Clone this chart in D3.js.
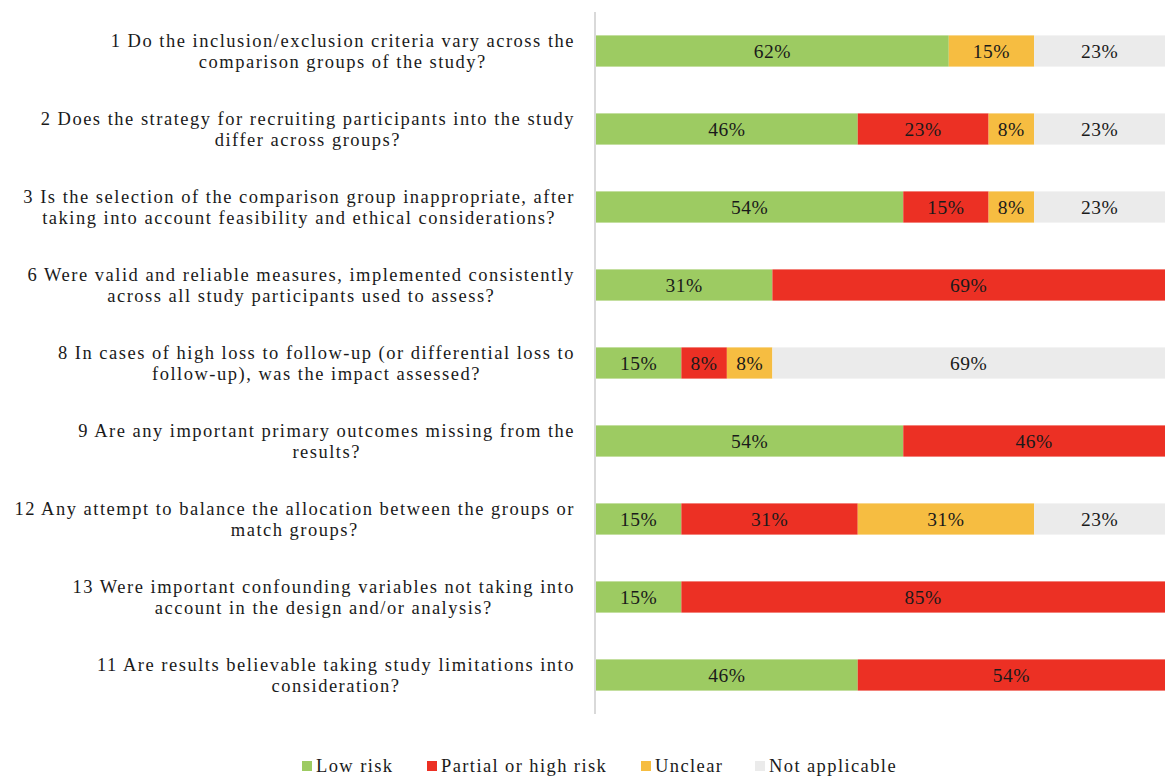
<!DOCTYPE html>
<html>
<head>
<meta charset="utf-8">
<script src="https://cdn.jsdelivr.net/npm/d3@7"></script>
<style>
  body { margin: 0; background: #fff; }
  text { font-family: "Liberation Serif", "Times New Roman", serif; fill: #1a1a1a; }
</style>
</head>
<body>
<svg id="chart" width="1165" height="779"></svg>
<script>
// questions, two lines each as in the figure
var questions = [
  ["1 Do the inclusion/exclusion criteria vary across the", "comparison groups of the study?"],
  ["2 Does the strategy for recruiting participants into the study", "differ across groups?"],
  ["3 Is the selection of the comparison group inappropriate, after", "taking into account feasibility and ethical considerations?"],
  ["6 Were valid and reliable measures, implemented consistently", "across all study participants used to assess?"],
  ["8 In cases of high loss to follow-up (or differential loss to", "follow-up), was the impact assessed?"],
  ["9 Are any important primary outcomes missing from the", "results?"],
  ["12 Any attempt to balance the allocation between the groups or", "match groups?"],
  ["13 Were important confounding variables not taking into", "account in the design and/or analysis?"],
  ["11 Are results believable taking study limitations into", "consideration?"]
];

var seriesNames = ["Low risk", "Partial or high risk", "Unclear", "Not applicable"];
var lowRisk     = [62, 46, 54, 31, 15, 54, 15, 15, 46];
var highRisk    = [ 0, 23, 15, 69,  8, 46, 31, 85, 54];
var unclear     = [15,  8,  8,  0,  8,  0, 31,  0,  0];
var notApplic   = [23, 23, 23,  0, 69,  0, 23,  0,  0];
var colors = ["#9dcb62", "#ec3024", "#f6bd41", "#ebebeb"];

var svg = d3.select('#chart');

// build rows for the stack
var rows = questions.map(function(q, i) {
  return {id: i, label: q, "Low risk": lowRisk[i], "Partial or high risk": highRisk[i],
          "Unclear": unclear[i], "Not applicable": notApplic[i]};
});
var stacked = d3.stack().keys(seriesNames)(rows);

var x = d3.scaleLinear().domain([0, 100]).range([596, 1165]);
var y = d3.scaleBand().domain(d3.range(rows.length)).range([12, 714]).paddingInner(0.6).paddingOuter(0.3);

// bars
var layers = svg.selectAll('g.layer')
  .data(stacked)
  .enter().append('g')
  .attr('class', 'layer')
  .attr('fill', function(d, i) { return colors[i]; });

layers.selectAll('rect')
  .data(function(d) { return d; })
  .enter().append('rect')
  .attr('x', function(d) { return x(d[0]); })
  .attr('y', function(d, i) { return y(i); })
  .attr('width', function(d) { return x(d[1]) - x(d[0]); })
  .attr('height', y.bandwidth());

// value labels
layers.selectAll('text')
  .data(function(d) { return d.filter(function(s) { return s[1] - s[0] > 0; }); })
  .enter().append('text')
  .attr('x', function(d) { return (x(d[0]) + x(d[1])) / 2; })
  .attr('y', function(d) { return y(d.data.id) + y.bandwidth() / 2; })
  .attr('dy', '0.36em')
  .attr('text-anchor', 'middle')
  .style('font-size', '19.5px')
  .style('letter-spacing', '0.5px')
  .text(function(d) { return (d[1] - d[0]) + '%'; });

// vertical axis line
svg.append('line')
  .attr('x1', 595).attr('x2', 595)
  .attr('y1', 12).attr('y2', 714)
  .attr('stroke', '#d9d9d9')
  .attr('stroke-width', 2);

// category labels, centred block with its widest line flush right
var labelRight = 575;
var lbl = svg.selectAll('g.qlabel')
  .data(rows)
  .enter().append('g')
  .attr('class', 'qlabel');

lbl.each(function(d) {
  var g = d3.select(this);
  var cy = y(d.id) + y.bandwidth() / 2;
  var t = g.selectAll('text')
    .data(d.label)
    .enter().append('text')
    .attr('y', function(s, j) { return cy + (j === 0 ? -10.5 : 10.5); })
    .attr('dy', '0.35em')
    .attr('text-anchor', 'middle')
    .style('font-size', '18.5px')
    .style('letter-spacing', '1.5px')
    .text(function(s) { return s; });
  var maxW = d3.max(t.nodes(), function(n) { return n.getComputedTextLength(); });
  t.attr('x', labelRight - maxW / 2);
});

// legend
var legendX = [302, 427, 641, 755];
var legend = svg.selectAll('g.legend')
  .data(seriesNames)
  .enter().append('g')
  .attr('class', 'legend')
  .attr('transform', function(d, i) { return 'translate(' + legendX[i] + ',766)'; });

legend.append('rect')
  .attr('x', 0).attr('y', -5)
  .attr('width', 10).attr('height', 10)
  .attr('fill', function(d, i) { return colors[i]; });

legend.append('text')
  .attr('x', 14)
  .attr('dy', '0.35em')
  .style('font-size', '18.5px')
  .style('letter-spacing', '1.4px')
  .text(function(d) { return d; });
</script>
</body>
</html>
